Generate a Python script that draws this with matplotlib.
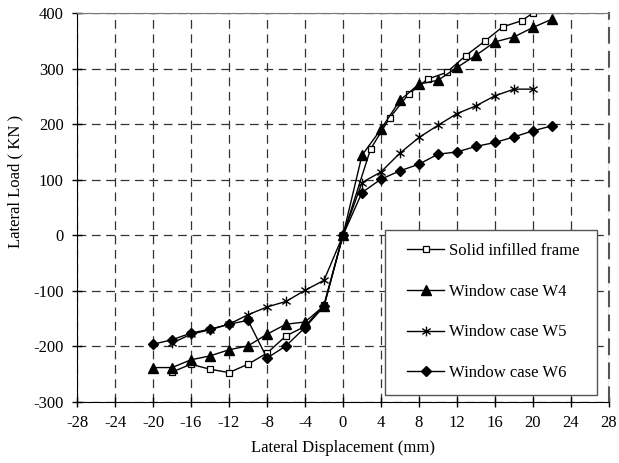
import matplotlib
matplotlib.use("Agg")
import matplotlib.pyplot as plt
from matplotlib.path import Path
from matplotlib.patches import Rectangle

plt.rcParams['font.family'] = ['Liberation Serif', 'DejaVu Serif']
plt.rcParams['axes.unicode_minus'] = False

# solid infilled frame (squares)
solid_x = [-18, -16, -14, -12, -10, -8, -6, -4, -2, 0, 2.9, 4.9, 6.9, 8.9, 10.9, 12.9, 14.9, 16.8, 18.8, 20]
solid_y = [-246, -232, -241, -247, -232, -212, -181, -164, -125, 0, 155, 211, 254, 281, 293, 323, 349, 375, 386, 400]

# window case W4 (triangles)
w4_x = [-20, -18, -16, -14, -12, -10, -8, -6, -4, -2, 0, 2, 4, 6, 8, 10, 12, 14, 16, 18, 20, 22]
w4_y = [-238, -238, -224, -217, -206, -199, -178, -160, -156, -127, 0, 144, 191, 243, 272, 279, 302, 324, 348, 357, 374, 389]

# window case W5 (asterisks)
w5_x = [-18, -16, -14, -12, -10, -8, -6, -4, -2, 0, 2, 4, 6, 8, 10, 12, 14, 16, 18, 20]
w5_y = [-194, -178, -170, -160, -143, -129, -119, -99, -81, 0, 95, 114, 148, 176, 198, 219, 233, 251, 263, 263]

# window case W6 (diamonds)
w6_x = [-20, -18, -16, -14, -12, -10, -8, -6, -4, -2, 0, 2, 4, 6, 8, 10, 12, 14, 16, 18, 20, 22]
w6_y = [-196, -188, -176, -169, -160, -153, -221, -199, -166, -128, 0, 77, 101, 116, 128, 146, 150, 160, 167, 177, 188, 197]

x_ticks = list(range(-28, 29, 4))
y_ticks = list(range(-300, 401, 100))

# asterisk marker like the spreadsheet one: vertical line plus an X
star = Path([(0, -1), (0, 1), (-0.85, -0.6), (0.85, 0.6), (-0.85, 0.6), (0.85, -0.6)],
            [Path.MOVETO, Path.LINETO, Path.MOVETO, Path.LINETO, Path.MOVETO, Path.LINETO])

fig = plt.figure(figsize=(6.19, 4.63), dpi=100)
ax = fig.add_axes([0.1244, 0.1317, 0.8594, 0.8402])

ax.plot(solid_x, solid_y, color='black', lw=1, marker='s', ms=5, mfc='white', mec='black', mew=0.9,
        label='Solid infilled frame')
ax.plot(w4_x, w4_y, color='black', lw=1, marker='^', ms=6.5, mfc='black', mec='black',
        label='Window case W4')
ax.plot(w5_x, w5_y, color='black', lw=1, marker=star, ms=7, mew=1,
        label='Window case W5')
ax.plot(w6_x, w6_y, color='black', lw=1, marker='D', ms=5, mfc='black', mec='black',
        label='Window case W6')

ax.set_xlim(-28, 28)
ax.set_ylim(-300, 400)
ax.set_xticks(x_ticks)
ax.set_yticks(y_ticks)
ax.grid(True, color='#333333', linestyle=(0, (7, 4.5)), linewidth=0.9)
ax.set_axisbelow(True)

ax.tick_params(direction='inout', length=7, width=1, labelsize=12, top=False, right=False, pad=6)
ax.spines['left'].set_color('black')
ax.spines['bottom'].set_color('black')
ax.spines['top'].set_color('#777777')
ax.spines['right'].set_color('#555555')
ax.spines['right'].set_linestyle((0, (7, 4.5)))
ax.spines['right'].set_linewidth(1.5)

ax.set_xlabel('Lateral Displacement (mm)', fontsize=12, labelpad=6)
ax.set_ylabel('Lateral Load ( KN )', fontsize=12)
ax.yaxis.label.set_va('center')
ax.yaxis.set_label_coords(-0.1165, 0.566)

# legend box drawn separately so its padding matches the original
box = Rectangle((0.579, 0.018), 0.398, 0.424, transform=ax.transAxes, facecolor='white',
                edgecolor='#555555', linewidth=1, zorder=5)
ax.add_patch(box)
leg = ax.legend(loc='center', bbox_to_anchor=(0.783, 0.2314), fontsize=12, frameon=False,
                labelspacing=1.48, handlelength=2.2, handletextpad=0.3, borderpad=0, borderaxespad=0)
leg.set_zorder(6)

plt.savefig('out.png', dpi=100)
